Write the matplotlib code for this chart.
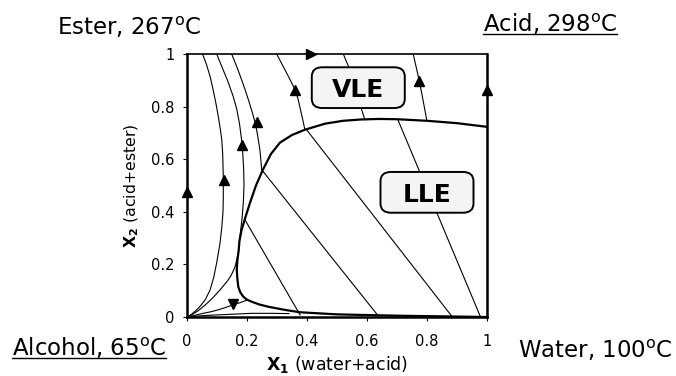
import numpy as np
import matplotlib.pyplot as plt
from matplotlib.lines import Line2D
from matplotlib.patches import FancyBboxPatch

plt.rcParams['font.family'] = 'DejaVu Sans'
plt.rcParams['mathtext.fontset'] = 'custom'
plt.rcParams['mathtext.bf'] = 'DejaVu Sans:bold'
plt.rcParams['mathtext.rm'] = 'DejaVu Sans'

# LLE envelope (binodal), traced from the water/acid edge round to the water corner
bin_x = [1.000, 0.900, 0.800, 0.700, 0.640, 0.580, 0.520, 0.460, 0.393, 0.350, 0.310,
         0.280, 0.253, 0.230, 0.210, 0.195, 0.182, 0.175, 0.172, 0.168, 0.166, 0.168,
         0.171, 0.178, 0.188, 0.200, 0.216, 0.240, 0.271, 0.327, 0.377, 0.500, 0.700, 1.000]
bin_y = [0.723, 0.737, 0.746, 0.752, 0.753, 0.751, 0.746, 0.735, 0.712, 0.692, 0.663,
         0.620, 0.560, 0.500, 0.434, 0.380, 0.331, 0.290, 0.250, 0.215, 0.180, 0.145,
         0.115, 0.093, 0.077, 0.066, 0.058, 0.048, 0.039, 0.027, 0.018, 0.010, 0.005, 0.000]

# residue curves
ca_x = [0.052, 0.065, 0.077, 0.087, 0.096, 0.104, 0.111, 0.116, 0.119, 0.121, 0.121,
        0.120, 0.116, 0.110, 0.099, 0.089, 0.077, 0.062, 0.047, 0.032, 0.015, 0.0]
ca_y = [1.000, 0.960, 0.915, 0.865, 0.815, 0.765, 0.715, 0.674, 0.620, 0.534, 0.450,
        0.400, 0.340, 0.280, 0.206, 0.150, 0.103, 0.068, 0.045, 0.027, 0.010, 0.0]

cb_x = [0.099, 0.115, 0.135, 0.154, 0.166, 0.175, 0.182, 0.186, 0.189, 0.190, 0.188,
        0.184, 0.178, 0.171, 0.160, 0.148, 0.135, 0.110, 0.085, 0.060, 0.035, 0.015, 0.0]
cb_y = [1.000, 0.955, 0.900, 0.839, 0.790, 0.735, 0.674, 0.620, 0.560, 0.500, 0.440,
        0.380, 0.320, 0.243, 0.190, 0.160, 0.137, 0.103, 0.072, 0.045, 0.022, 0.008, 0.0]

cc_x = [0.149, 0.163, 0.178, 0.192, 0.205, 0.217, 0.227, 0.234, 0.239, 0.243, 0.246, 0.249]
cc_y = [1.000, 0.960, 0.915, 0.870, 0.825, 0.780, 0.740, 0.700, 0.665, 0.636, 0.600, 0.560]

cd_x = [0.0, 0.025, 0.050, 0.080, 0.103, 0.128, 0.153, 0.178, 0.200]
cd_y = [0.0, 0.006, 0.013, 0.020, 0.027, 0.036, 0.046, 0.055, 0.064]

ce_x = [0.0, 0.050, 0.100, 0.160, 0.215, 0.280, 0.340]
ce_y = [0.0, 0.005, 0.008, 0.011, 0.014, 0.014, 0.013]

cf_x = [0.299, 0.315, 0.331, 0.346, 0.360, 0.370, 0.378, 0.386, 0.393]
cf_y = [1.000, 0.965, 0.930, 0.897, 0.865, 0.830, 0.790, 0.750, 0.712]

cg_x = [0.521, 0.530, 0.538, 0.552, 0.566, 0.582, 0.593]
cg_y = [1.000, 0.975, 0.954, 0.905, 0.850, 0.789, 0.750]

ch_x = [0.754, 0.762, 0.770, 0.774, 0.781, 0.790, 0.799]
ch_y = [1.000, 0.960, 0.920, 0.896, 0.860, 0.805, 0.750]

curves = [(ca_x, ca_y), (cb_x, cb_y), (cc_x, cc_y), (cd_x, cd_y), (ce_x, ce_y),
          (cf_x, cf_y), (cg_x, cg_y), (ch_x, ch_y)]

# tie lines: (x_start, x_end), (y_start, y_end)
tie_x = [(0.193, 0.377), (0.249, 0.637), (0.400, 0.882), (0.703, 0.977)]
tie_y = [(0.370, 0.008), (0.560, 0.005), (0.710, 0.004), (0.750, 0.004)]

# direction arrows
arr_x = [0.0, 0.415, 1.0, 0.123, 0.182, 0.233, 0.360, 0.774, 0.153]
arr_y = [0.477, 1.0, 0.865, 0.522, 0.655, 0.740, 0.865, 0.896, 0.050]
arr_m = ['^', '>', '^', '^', '^', '^', '^', '^', 'v']

# region labels
regions = ['VLE', 'LLE']
reg_x = [0.571, 0.800]
reg_y = [0.872, 0.474]

xticks = [0, 0.2, 0.4, 0.6, 0.8, 1]
yticks = [0, 0.2, 0.4, 0.6, 0.8, 1]
tick_labels = ['0', '0.2', '0.4', '0.6', '0.8', '1']

fig = plt.figure(figsize=(6.76, 3.76), dpi=100)
ax = fig.add_axes([0.2766, 0.1569, 0.4438, 0.6995])
ax.set_xlim(0, 1)
ax.set_ylim(0, 1)

for cx, cy in curves:
    ax.plot(cx, cy, color='black', lw=0.8, zorder=2)
for tx, ty in zip(tie_x, tie_y):
    ax.plot(tx, ty, color='black', lw=0.8, zorder=2)
ax.plot(bin_x, bin_y, color='black', lw=1.6, zorder=3)

for x, y, m in zip(arr_x, arr_y, arr_m):
    ax.plot(x, y, marker=m, ms=6.5, color='black', ls='none', zorder=5, clip_on=False)

# rounded label boxes, 0.31 x 0.155 in axes units
bw, bh = 0.31, 0.155
for name, x, y in zip(regions, reg_x, reg_y):
    ax.add_patch(FancyBboxPatch((x - bw / 2, y - bh / 2), bw, bh,
                                boxstyle='round,pad=0,rounding_size=0.035',
                                fc='#f4f4f4', ec='black', lw=1.4, zorder=6))
    ax.text(x, y, name, fontsize=18, fontweight='bold', ha='center', va='center_baseline',
            zorder=7)

for side in ['left', 'right', 'bottom']:
    ax.spines[side].set_linewidth(1.8)
ax.spines['top'].set_linewidth(1.2)

ax.set_xticks(xticks)
ax.set_yticks(yticks)
ax.set_xticklabels(tick_labels, fontsize=10.5)
ax.set_yticklabels(tick_labels, fontsize=10.5)
ax.tick_params(axis='x', direction='out', length=3, width=0.8, pad=9)
ax.tick_params(axis='y', direction='out', length=3, width=0.8, pad=6)

ax.set_xlabel(r'$\mathbf{X_1}$ (water+acid)', fontsize=12.5, labelpad=4)
ax.set_ylabel(r'$\mathbf{X_2}$ (acid+ester)', fontsize=11.3, labelpad=7)

deg = r'$^{\mathrm{o}}$'
corner = dict(fontsize=16.5, va='center')
t_ester = fig.text(57 / 676, 1 - 27 / 376, 'Ester, 267' + deg + 'C', ha='left', **corner)
t_acid = fig.text(617 / 676, 1 - 24 / 376, 'Acid, 298' + deg + 'C', ha='right', **corner)
t_alc = fig.text(12 / 676, 1 - 348 / 376, 'Alcohol, 65' + deg + 'C', ha='left', **corner)
t_wat = fig.text(673 / 676, 1 - 350 / 376, 'Water, 100' + deg + 'C', ha='right', **corner)

# underline the two labels drawn that way
fig.canvas.draw()
r = fig.canvas.get_renderer()
for t in [t_acid, t_alc]:
    bb = t.get_window_extent(r)
    y0 = (bb.y0 + 3) / fig.bbox.height
    fig.add_artist(Line2D([bb.x0 / fig.bbox.width, bb.x1 / fig.bbox.width], [y0, y0],
                          color='black', lw=1.0, transform=fig.transFigure))

fig.savefig('out.png', dpi=100)
